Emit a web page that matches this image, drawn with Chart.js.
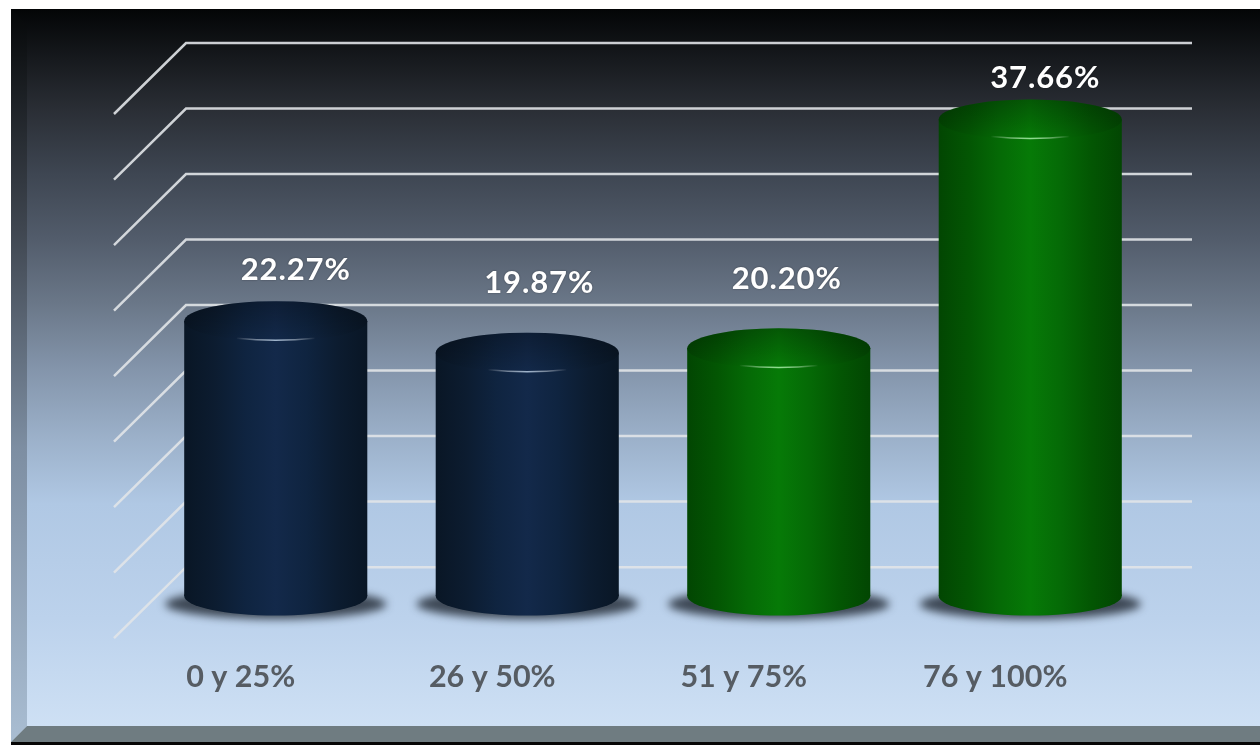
<!DOCTYPE html>
<html>
<head>
<meta charset="utf-8">
<script src="https://cdn.jsdelivr.net/npm/chart.js@4"></script>
<style>
  html, body { margin: 0; padding: 0; background: #fff; overflow: hidden; }
  #wrap { position: relative; width: 1260px; height: 745px; }
</style>
</head>
<body>
<div id="wrap"><canvas id="myChart" width="1260" height="745"></canvas></div>
<script>
var categories = ['0 y 25%', '26 y 50%', '51 y 75%', '76 y 100%'];
var percentValues = [22.27, 19.87, 20.20, 37.66];
var wallTicks = [0, 5, 10, 15, 20, 25, 30, 35, 40];

// colours and small offsets for the value labels
var blueShades = ['#091625', '#0c1c30', '#0f2440', '#13294a', '#0f2440', '#0c1c30', '#091625'];
var greenShades = ['#024602', '#035603', '#056a06', '#067a07', '#056a06', '#035603', '#024602'];
var barShades = [blueShades, blueShades, greenShades, greenShades];
var glintColors = ['#9fb4cc', '#9fb4cc', '#8fe08f', '#8fe08f'];
var labelShiftX = [20, 12, 8, 15];
var labelShiftY = [-51, -70, -69, -42];

function sideGradient(ctx, bar, shades) {
    var half = bar.width / 2;
    var g = ctx.createLinearGradient(bar.x - half, 0, bar.x + half, 0);
    shades.forEach(function(c, i) { g.addColorStop(i / (shades.length - 1), c); });
    return g;
}

var panelPlugin = {
    id: 'panel',
    beforeDraw: function(chart) {
        var ctx = chart.ctx;
        var bg = ctx.createLinearGradient(0, 9, 0, 726);
        bg.addColorStop(0, '#030506');
        bg.addColorStop(0.14, '#2a2e35');
        bg.addColorStop(0.23, '#3e4652');
        bg.addColorStop(0.32, '#525c6b');
        bg.addColorStop(0.41, '#6a7788');
        bg.addColorStop(0.5, '#8394aa');
        bg.addColorStop(0.6, '#9cb1ca');
        bg.addColorStop(0.69, '#b0c8e4');
        bg.addColorStop(0.85, '#bcd2ec');
        bg.addColorStop(1, '#cee0f4');
        ctx.save();
        ctx.fillStyle = bg;
        ctx.fillRect(11, 9, 1249, 736);

        // left bevel
        var left = ctx.createLinearGradient(0, 9, 0, 742);
        left.addColorStop(0, '#050708');
        left.addColorStop(0.3, '#3f4650');
        left.addColorStop(0.6, '#7d8ea2');
        left.addColorStop(1, '#a9bdd2');
        ctx.fillStyle = left;
        ctx.beginPath();
        ctx.moveTo(11, 9);
        ctx.lineTo(27, 25);
        ctx.lineTo(27, 726);
        ctx.lineTo(11, 742);
        ctx.closePath();
        ctx.fill();

        // bottom bevel and the black edge under it
        ctx.fillStyle = '#6f7c81';
        ctx.beginPath();
        ctx.moveTo(27, 726);
        ctx.lineTo(1260, 726);
        ctx.lineTo(1260, 742);
        ctx.lineTo(11, 742);
        ctx.closePath();
        ctx.fill();
        ctx.fillStyle = '#060606';
        ctx.fillRect(11, 742, 1249, 3);
        ctx.restore();
    },
    beforeDatasetsDraw: function(chart) {
        var ctx = chart.ctx;
        var wall = chart.scales.yWall;
        ctx.save();
        ctx.lineWidth = 2.5;
        ctx.strokeStyle = 'rgba(225,228,232,0.9)';
        wallTicks.forEach(function(t) {
            var y = wall.getPixelForValue(t);
            ctx.beginPath();
            ctx.moveTo(1192, y);
            ctx.lineTo(186, y);
            ctx.lineTo(114, y + 71);
            ctx.stroke();
        });

        // floor shadow and rounded foot of every cylinder
        chart.getDatasetMeta(0).data.forEach(function(bar, i) {
            ctx.save();
            ctx.filter = 'blur(4px)';
            ctx.fillStyle = 'rgba(30,38,48,0.8)';
            ctx.beginPath();
            ctx.ellipse(bar.x, 604, bar.width / 2 + 19, 15, 0, 0, Math.PI * 2);
            ctx.fill();
            ctx.restore();

            ctx.fillStyle = sideGradient(ctx, bar, barShades[i]);
            ctx.beginPath();
            ctx.ellipse(bar.x, 596, bar.width / 2, 19.5, 0, 0, Math.PI * 2);
            ctx.fill();
        });
        ctx.restore();
    },
    afterDatasetsDraw: function(chart) {
        var ctx = chart.ctx;
        ctx.save();
        chart.getDatasetMeta(0).data.forEach(function(bar, i) {
            var rx = bar.width / 2;

            // cap: body colour, darkened towards the back edge
            ctx.fillStyle = sideGradient(ctx, bar, barShades[i]);
            ctx.beginPath();
            ctx.ellipse(bar.x, bar.y, rx, 20, 0, 0, Math.PI * 2);
            ctx.fill();
            var g = ctx.createLinearGradient(0, bar.y - 20, 0, bar.y + 20);
            g.addColorStop(0, 'rgba(0,0,0,0.28)');
            g.addColorStop(1, 'rgba(0,0,0,0)');
            ctx.fillStyle = g;
            ctx.fill();

            // thin glint on the front rim
            var glint = ctx.createLinearGradient(bar.x - 40, 0, bar.x + 40, 0);
            glint.addColorStop(0, 'rgba(255,255,255,0)');
            glint.addColorStop(0.5, glintColors[i]);
            glint.addColorStop(1, 'rgba(255,255,255,0)');
            ctx.strokeStyle = glint;
            ctx.lineWidth = 1.5;
            ctx.beginPath();
            ctx.ellipse(bar.x, bar.y - 1, rx, 20, 0, Math.PI * 0.36, Math.PI * 0.64);
            ctx.stroke();

            ctx.save();
            ctx.shadowColor = 'rgba(0,0,0,0.4)';
            ctx.shadowBlur = 2;
            ctx.fillStyle = '#ffffff';
            ctx.font = 'bold 31px Lato';
            ctx.letterSpacing = '0.9px';
            ctx.textAlign = 'center';
            ctx.textBaseline = 'middle';
            ctx.fillText(percentValues[i].toFixed(2) + '%', bar.x + labelShiftX[i], bar.y + labelShiftY[i]);
            ctx.restore();
        });
        ctx.restore();
    }
};

var myChart = new Chart(document.getElementById('myChart').getContext('2d'), {
    type: 'bar',
    plugins: [panelPlugin],
    data: {
        labels: categories,
        datasets: [{
            data: percentValues,
            yAxisID: 'y',
            base: 1.3,
            barPercentage: 0.728,
            categoryPercentage: 1,
            borderSkipped: false,
            backgroundColor: function(c) {
                var chart = c.chart;
                if (!chart.chartArea || c.dataIndex === undefined) return '#13294a';
                var x = chart.scales.x.getPixelForValue(c.dataIndex);
                var w = chart.scales.x.width / categories.length * 0.728;
                return sideGradient(chart.ctx, { x: x, width: w }, barShades[c.dataIndex]);
            }
        }]
    },
    options: {
        responsive: false,
        animation: false,
        layout: { padding: { left: 150, right: 104, top: 43, bottom: 0 } },
        plugins: { legend: { display: false }, tooltip: { enabled: false }, title: { display: false } },
        scales: {
            x: {
                grid: { display: false },
                border: { display: false },
                ticks: {
                    color: '#565c63',
                    font: { family: 'Lato', weight: 'bold', size: 30.5 },
                    padding: 38,
                    labelOffset: -35,
                    maxRotation: 0
                },
                afterFit: function(scale) { scale.height = 132; }
            },
            y: { display: false, min: 0, max: 43.5 },
            yWall: {
                display: false,
                position: 'left',
                min: -3.5,
                max: 40,
                afterBuildTicks: function(scale) {
                    scale.ticks = wallTicks.map(function(v) { return { value: v }; });
                }
            }
        }
    }
});
</script>
</body>
</html>
